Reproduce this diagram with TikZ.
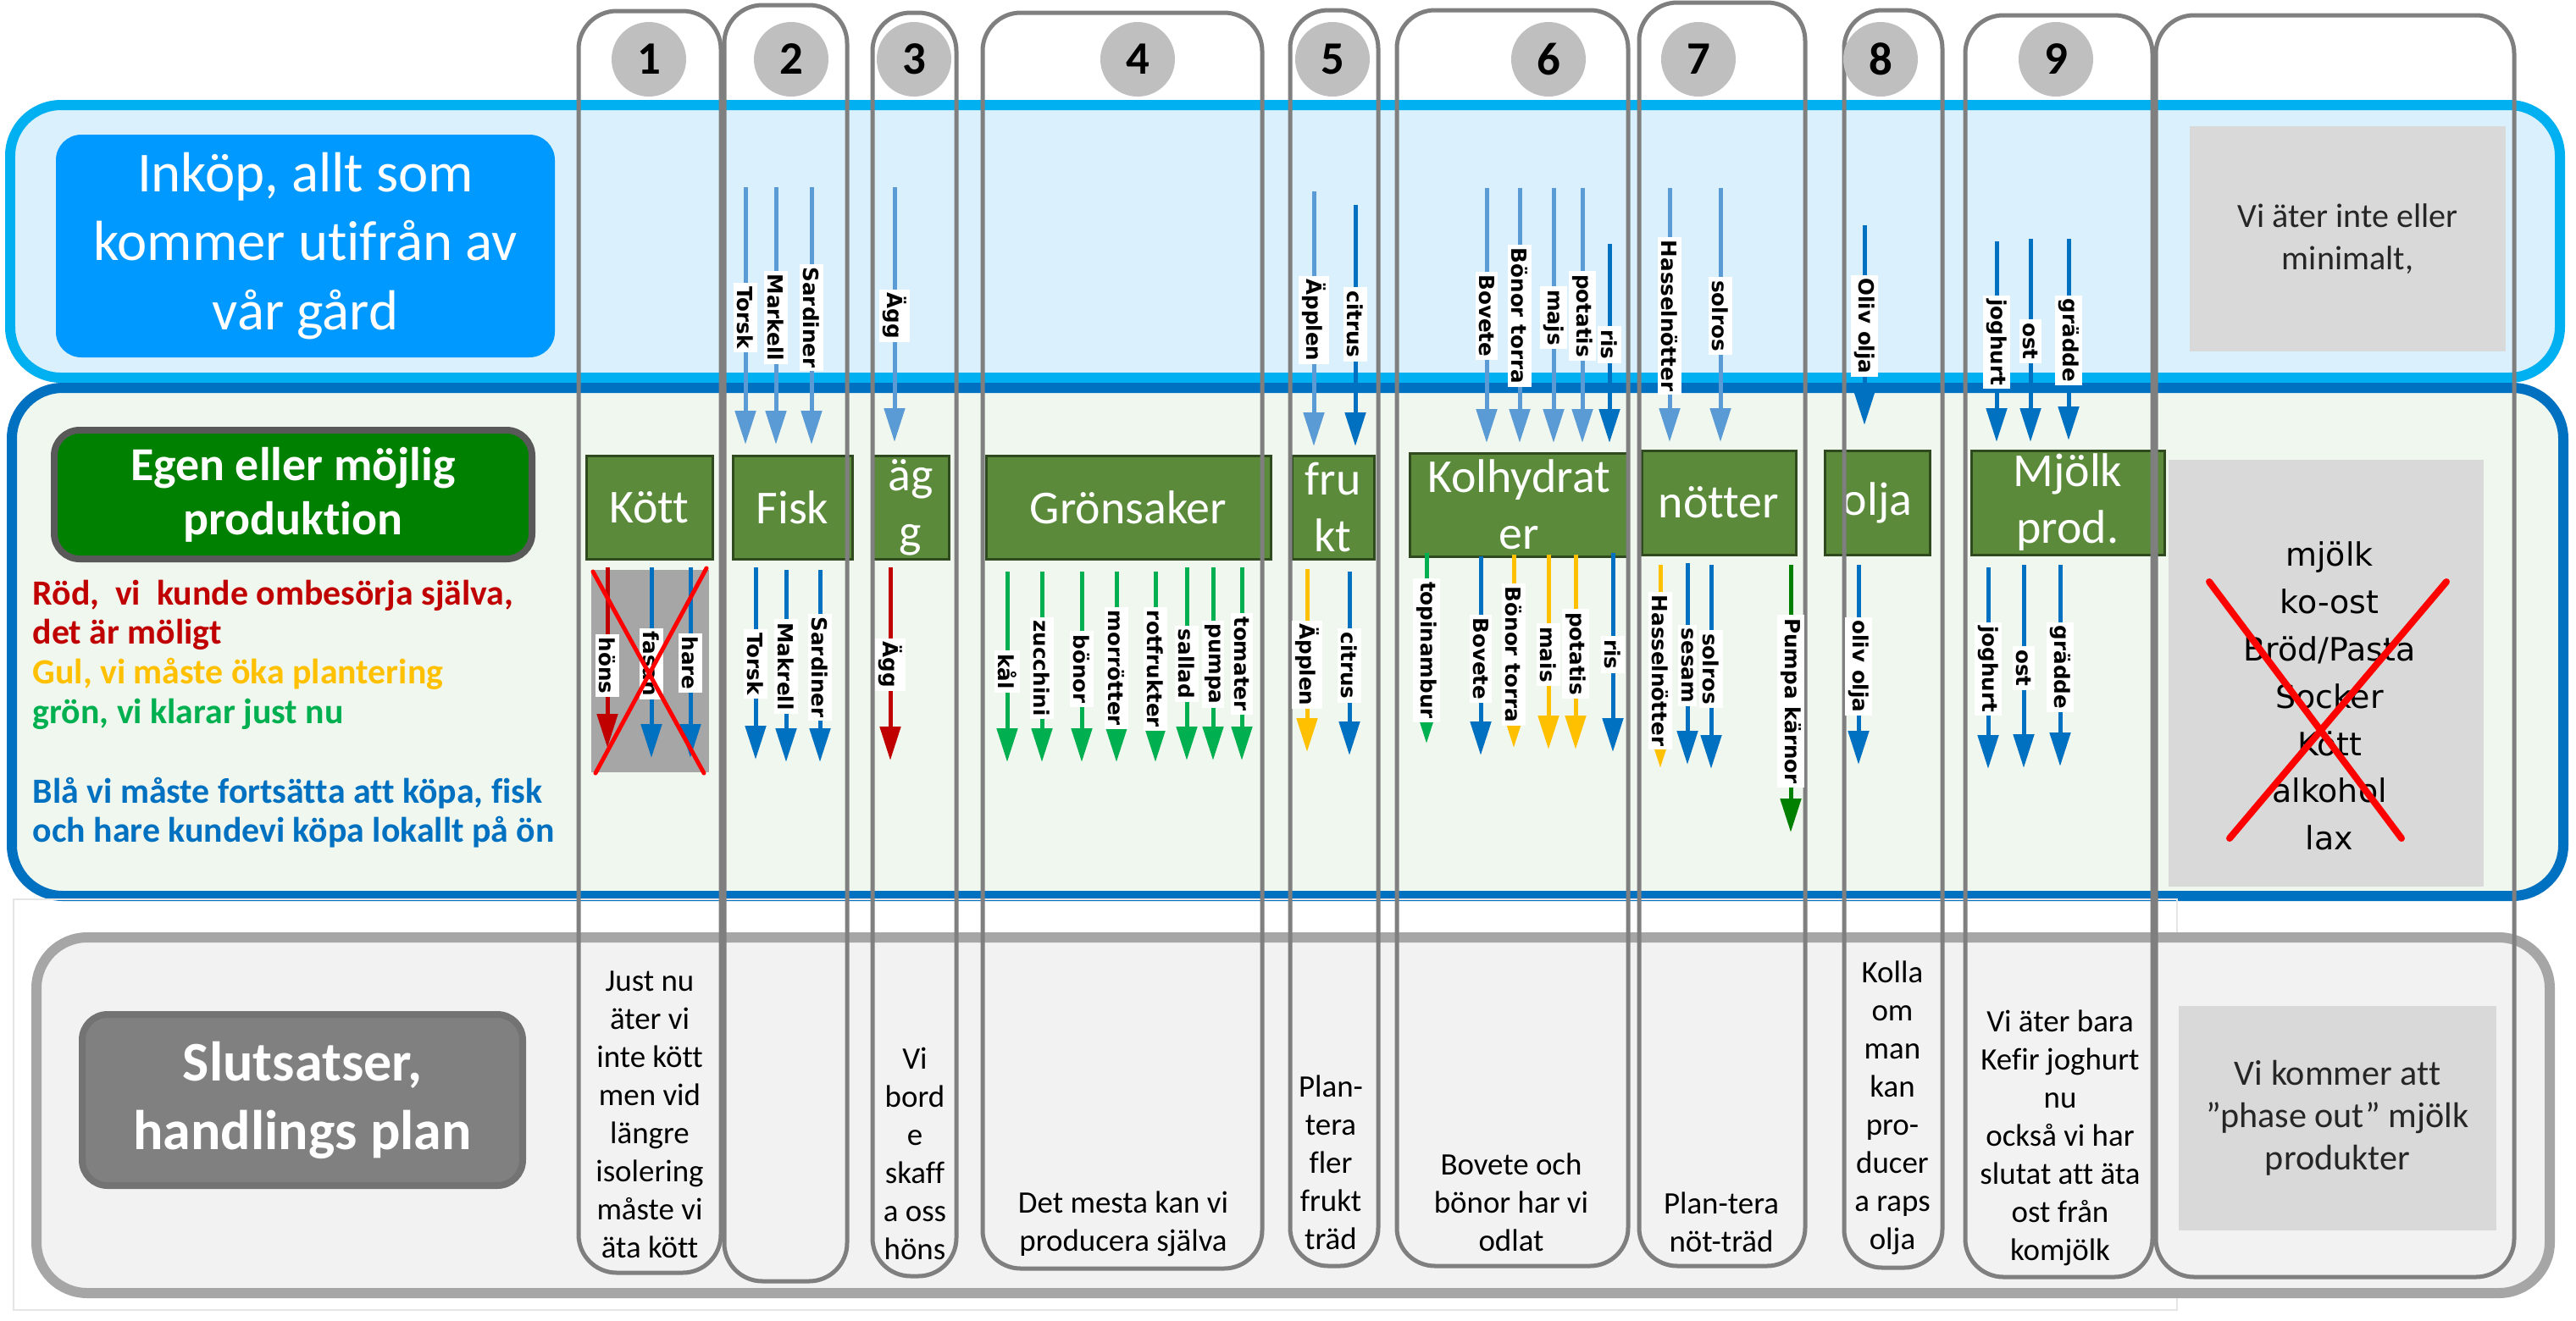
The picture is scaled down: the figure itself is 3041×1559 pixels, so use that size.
\documentclass[tikz,border=0pt]{standalone}
\usepackage{fontspec}
\setmainfont{Carlito}[Ligatures=NoCommon]
\newfontfamily\verd{DejaVu Sans}
\usetikzlibrary{arrows.meta}

\definecolor{inkopfill}{HTML}{DAF0FC}
\definecolor{inkopedge}{HTML}{00B0F0}
\definecolor{inkopbox}{HTML}{0099FF}
\definecolor{egenfill}{HTML}{F0F7EE}
\definecolor{egenedge}{HTML}{0070C0}
\definecolor{egenbox}{HTML}{008000}
\definecolor{slutfill}{HTML}{F2F2F2}
\definecolor{slutedge}{HTML}{A6A6A6}
\definecolor{slutbox}{HTML}{808080}
\definecolor{framegray}{HTML}{7F7F7F}
\definecolor{diskgray}{HTML}{BFBFBF}
\definecolor{catgreen}{HTML}{5A8A3A}
\definecolor{catedge}{HTML}{2E4A1E}
\definecolor{notegray}{HTML}{D9D9D9}
\definecolor{kottgray}{HTML}{A6A6A6}
\definecolor{lb}{HTML}{5B9BD5}
\definecolor{db}{HTML}{0070C0}
\definecolor{rd}{HTML}{C00000}
\definecolor{yl}{HTML}{FFC000}
\definecolor{gr}{HTML}{00B050}
\definecolor{dg}{HTML}{008000}
\definecolor{crossred}{HTML}{FF0000}

\begin{document}
\begin{tikzpicture}[x=0.1mm, y=-0.1mm]
                  \tikzstyle{band}=[rounded corners=6mm, line width=1.2mm]
                  \tikzstyle{colframe}=[draw=framegray, line width=0.5mm, rounded corners=4.5mm]
                  \tikzstyle{numdisk}=[circle, fill=diskgray, minimum size=8.8mm, inner sep=0pt, font=\bfseries\fontsize{15.6}{15.6}\selectfont]
                  \tikzstyle{catbox}=[draw=catedge, fill=catgreen, line width=0.3mm, text=white, align=center, inner sep=0pt, font=\fontsize{15.9}{19.1}\selectfont]
                  \tikzstyle{greybox}=[fill=notegray, inner sep=0pt, align=center, text=black!85]
                  \tikzstyle{tag}=[fill=white, inner sep=0.4mm, rotate=-90, font=\verd\bfseries\fontsize{7}{7}\selectfont]
                  \tikzstyle{flow}=[line width=0.5mm, -{Triangle[length=4mm, width=2.4mm]}]
                  \tikzstyle{note}=[align=center, font=\fontsize{10.5}{12.8}\selectfont]
                  \tikzstyle{cross}=[draw=crossred, line width=0.5mm, line cap=round]

                  \useasboundingbox[fill=white] (0,0) rectangle (3041,1559);

                  \draw[band, draw=inkopedge, fill=inkopfill] (12,124) rectangle (3022,446);
                  \draw[band, draw=egenedge, fill=egenfill] (14,458) rectangle (3026,1058);
                  \draw[black!10, line width=0.2mm] (16,1062) rectangle (2570,1547);
                  \draw[band, draw=slutedge, fill=slutfill] (43,1107) rectangle (3010,1527);

                  \node[fill=inkopbox, rounded corners=3mm, minimum width=58.9mm, minimum height=26.3mm, text=white, align=center, font=\fontsize{19}{23.3}\selectfont] (inkop) at (360.5,290.5) {Inköp, allt som\\kommer utifrån av\\vår gård};
                  \node[fill=egenbox, draw=black!65, line width=0.8mm, rounded corners=3mm, minimum width=56.4mm, minimum height=15.2mm, text=white, align=center, font=\bfseries\fontsize{15.9}{18.2}\selectfont] (egen) at (346,584) {Egen eller möjlig\\produktion};
                  \node[fill=slutbox, draw=black!55, line width=0.8mm, rounded corners=3mm, minimum width=52mm, minimum height=20.2mm, text=white, align=center, font=\bfseries\fontsize{18.8}{23}\selectfont] (slut) at (357,1299) {Slutsatser,\\handlings plan};

                  \node[anchor=north west, align=left, inner sep=0pt, font=\bfseries\fontsize{11.9}{13.3}\selectfont] (legend) at (38,684)
                    {\textcolor{rd}{Röd,~ vi~ kunde ombesörja själva,}\\
                     \textcolor{rd}{det är möligt}\\
                     \textcolor{yl}{Gul, vi måste öka plantering}\\
                     \textcolor{gr}{grön, vi klarar just nu}\\[4.7mm]
                     \textcolor{db}{Blå vi måste fortsätta att köpa, fisk}\\
                     \textcolor{db}{och hare kundevi köpa lokallt på ön}};

                  \node[catbox, minimum width=14.9mm, minimum height=12.2mm] (kott) at (766.5,599) {Kött};
                  \node[catbox, minimum width=14.1mm, minimum height=12.2mm] (fisk) at (935.5,599) {Fisk};
                  \node[catbox, minimum width=9mm, minimum height=12.2mm] (agg) at (1075,599) {äg\\g};
                  \node[catbox, minimum width=33.6mm, minimum height=12.2mm] (gron) at (1332,599) {Grönsaker};
                  \node[catbox, minimum width=9.7mm, minimum height=12.2mm] (frukt) at (1573.5,599) {fru\\kt};
                  \node[catbox, minimum width=25.8mm, minimum height=12.2mm] (kolh) at (1793,596) {Kolhydrat\\er};
                  \node[catbox, minimum width=18.2mm, minimum height=12.3mm] (notter) at (2029,593.5) {nötter};
                  \node[catbox, minimum width=12.4mm, minimum height=12.3mm] (olja) at (2216,593.5) {olja};
                  \node[catbox, minimum width=22.8mm, minimum height=12.3mm] (mjolk) at (2441,593.5) {Mjölk\\prod.};

                  \node[greybox, minimum width=37.3mm, minimum height=26.6mm, font=\fontsize{11.4}{14.2}\selectfont] (minimalt) at (2771.5,282) {Vi äter inte eller\\minimalt,};
                  \node[greybox, minimum width=37.2mm, minimum height=50.4mm] (slopat) at (2746,795) {};
                  \node[align=center, text=black, font=\verd\fontsize{10.8}{15.9}\selectfont] (slopatlist) at (2750,822) {mjölk\\ko-ost\\Bröd/Pasta\\Socker\\Kött\\alkohol\\lax};
                  \node[greybox, minimum width=37.5mm, minimum height=26.5mm, font=\fontsize{12}{14.2}\selectfont] (phaseout) at (2759.5,1320.5) {Vi kommer att\\”phase out” mjölk\\produkter};

                  \fill[kottgray] (698,673) rectangle (837,912);

                  \foreach \l/\t/\r/\b in {683/13/851/1503, 855/6/1000/1513, 1030/15/1129/1507, 1160/15/1490/1498, 1523/12/1627/1495,
                                           1649/12/1922/1495, 1935/3/2131/1495, 2177/12/2293/1497, 2320/18/2541/1508, 2545/18/2968/1508}
                    \draw[colframe] (\l,\t) rectangle (\r,\b);

                  \foreach \n/\x in {1/766, 2/934, 3/1079, 4/1343, 5/1573, 6/1828, 7/2005, 8/2220, 9/2427}
                    \node[numdisk] (num\n) at (\x,70) {\n};

                  \foreach \x/\ya/\yb/\c/\t/\ly [count=\i] in {
                      880/221/525/lb/Torsk/375, 916/221/525/lb/Markell/375, 958/221/525/lb/Sardiner/375,
                      1056/221/522/lb/Ägg/373, 1551/226/527/lb/Äpplen/378, 1600/242/527/db/citrus/383,
                      1755/222/523/lb/Bovete/373, 1794/222/523/lb/Bönor torra/373, 1834/222/523/lb/majs/375,
                      1868/222/523/lb/potatis/373, 1900/288/523/db/ris/407, 1971/222/522/lb/Hasselnötter/373,
                      2031/222/522/lb/solros/373, 2201/266/502/db/Oliv olja/385, 2357/285/522/db/joghurt/404,
                      2397/282/522/db/ost/403, 2442/282/520/db/grädde/402}{
                    \coordinate (buy\i) at (\x,\ya);
                    \coordinate (buyend\i) at (\x,\yb);
                    \draw[flow, draw=\c, fill=\c] (buy\i) -- (buyend\i);
                    \node[tag] (buytag\i) at (\x,\ly) {\t};
                  }

                  \foreach \x/\ya/\yb/\c/\t/\ly [count=\i] in {
                      717/670/883/rd/höns/786, 769/670/895/db/fasan/784, 815/670/895/db/hare/783,
                      892/670/897/db/Torsk/784, 928/673/900/db/Makrell/787, 968/673/900/db/Sardiner/788,
                      1051/670/898/rd/Ägg/785,
                      1189/675/900/gr/kål/793, 1230/675/900/gr/zucchini/789, 1277/675/900/gr/bönor/790,
                      1318/675/900/gr/morrötter/789, 1364/675/900/gr/rotfrukter/790, 1401/670/898/gr/sallad/784,
                      1432/670/898/gr/pumpa/784, 1466/670/898/gr/tomater/784,
                      1543/672/888/yl/Äpplen/785, 1593/675/892/db/citrus/786,
                      1684/653/878/gr/topinambur/768, 1748/657/892/db/Bovete/778, 1787/655/883/yl/Bönor torra/773,
                      1828/655/885/yl/mais/773, 1860/655/885/yl/potatis/772, 1904/653/888/db/ris/773,
                      1960/667/907/yl/Hasselnötter/792, 1992/665/903/db/sesam/786, 2020/667/908/db/solros/790,
                      2114/667/983/dg/Pumpa kärnor/828, 2194/667/903/db/oliv olja/787,
                      2347/670/908/db/joghurt/790, 2389/667/907/db/ost/789, 2432/667/905/db/grädde/788}{
                    \coordinate (own\i) at (\x,\ya);
                    \coordinate (ownend\i) at (\x,\yb);
                    \draw[flow, draw=\c, fill=\c] (own\i) -- (ownend\i);
                    \node[tag] (owntag\i) at (\x,\ly) {\t};
                  }

                  \draw[cross] (700,675) -- (831,913);
                  \draw[cross] (834,671) -- (703,913);
                  \draw[cross, line width=0.8mm] (2608,687) -- (2835,990);
                  \draw[cross, line width=0.8mm] (2888,687) -- (2632,990);

                  \node[note] (note1) at (767,1316) {Just nu\\äter vi\\inte kött\\men vid\\längre\\isolering\\måste vi\\äta kött};
                  \node[note] (note3) at (1080,1362) {Vi\\bord\\e\\skaff\\a oss\\höns};
                  \node[note] (note4) at (1326,1445) {Det mesta kan vi\\producera själva};
                  \node[note] (note5) at (1571,1373) {Plan-\\tera\\fler\\frukt\\träd};
                  \node[note] (note6) at (1784,1420) {Bovete och\\bönor har vi\\odlat};
                  \node[note] (note7) at (2032,1443) {Plan-tera\\nöt-träd};
                  \node[note] (note8) at (2234,1308) {Kolla\\om\\man\\kan\\pro-\\ducer\\a raps\\olja};
                  \node[note] (note9) at (2432,1344) {Vi äter bara\\Kefir joghurt\\nu\\också vi har\\slutat att äta\\ost från\\komjölk};
                \end{tikzpicture}
\end{document}
